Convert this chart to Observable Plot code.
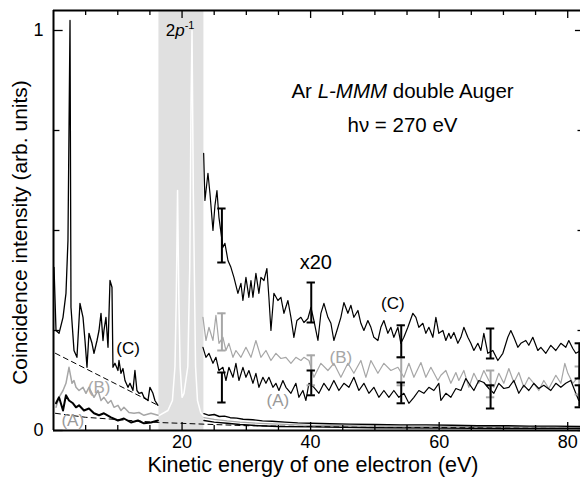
<!DOCTYPE html>
<html><head><meta charset="utf-8">
<script src="https://cdn.jsdelivr.net/npm/d3@7"></script>
<script src="https://cdn.jsdelivr.net/npm/@observablehq/plot@0.6"></script>
<style>body{margin:0;background:#fff}svg{display:block}</style>
</head><body><div id="chart"></div>
<script>
// ---- data (kinetic energy eV, intensity arb. units) ----
const cLeft = [[0.08,0.408],[0.39,0.25],[0.86,0.243],[1.48,0.283],[1.94,0.343],[2.25,0.475],[2.57,1.025],[2.72,0.308],[3.19,0.2],[3.65,0.183],[4.12,0.318],[4.59,0.283],[4.9,0.225],[5.21,0.158],[5.52,0.243],[5.99,0.218],[6.3,0.193],[6.77,0.225],[7.08,0.25],[7.39,0.293],[7.7,0.225],[7.85,0.25],[8.16,0.283],[8.48,0.208],[8.79,0.375],[9.1,0.358],[9.25,0.158],[9.56,0.168],[10.03,0.15],[10.19,0.175],[10.5,0.143],[10.81,0.155],[11.12,0.125],[11.59,0.108],[11.9,0.118],[12.36,0.1],[12.67,0.15],[12.98,0.1],[13.3,0.093],[13.76,0.095],[14.07,0.083],[14.7,0.075],[15.0,0.108],[15.47,0.093],[15.78,0.075],[16.25,0.063]];
const bLeft = [[0.39,0.058],[0.86,0.083],[1.48,0.1],[1.94,0.118],[2.41,0.158],[2.88,0.118],[3.19,0.125],[3.5,0.108],[3.97,0.1],[4.59,0.108],[5.05,0.093],[5.52,0.108],[6.3,0.083],[6.92,0.1],[7.39,0.075],[7.85,0.083],[8.48,0.068],[8.94,0.075],[9.41,0.058],[10.03,0.063],[10.5,0.05],[10.96,0.058],[11.74,0.045],[12.52,0.043],[13.3,0.045],[14.07,0.038],[15.16,0.043],[16.25,0.038]];
const aLeft = [[0.39,0.068],[0.86,0.083],[1.48,0.05],[1.94,0.088],[2.41,0.075],[3.03,0.068],[3.5,0.058],[3.97,0.063],[4.74,0.05],[5.52,0.055],[6.3,0.043],[7.08,0.038],[7.85,0.043],[8.94,0.033],[10.03,0.025],[10.96,0.03],[12.05,0.02],[13.14,0.025],[14.07,0.018],[15.16,0.02],[16.25,0.025]];
const cX20 = [[23.36,0.693],[23.56,0.575],[24.03,0.643],[24.34,0.593],[24.81,0.5],[25.12,0.563],[25.43,0.6],[25.74,0.533],[26.36,0.458],[26.67,0.468],[27.14,0.425],[27.6,0.408],[28.07,0.383],[28.69,0.343],[29.16,0.368],[29.47,0.325],[29.94,0.383],[30.4,0.333],[30.72,0.375],[31.03,0.333],[31.49,0.393],[31.96,0.343],[32.27,0.383],[32.74,0.375],[33.2,0.405],[33.51,0.333],[33.83,0.25],[34.29,0.343],[34.91,0.325],[35.38,0.333],[35.85,0.293],[36.47,0.325],[36.94,0.283],[37.4,0.233],[37.87,0.275],[38.49,0.283],[38.96,0.27],[39.58,0.28],[40.05,0.308],[40.51,0.275],[41.14,0.225],[41.6,0.293],[42.07,0.318],[42.69,0.283],[43.16,0.268],[43.62,0.225],[44.25,0.258],[44.71,0.283],[45.18,0.32],[45.8,0.293],[46.27,0.313],[46.73,0.283],[47.36,0.3],[47.82,0.268],[48.29,0.25],[48.91,0.275],[49.38,0.258],[49.84,0.233],[50.47,0.225],[50.93,0.258],[51.4,0.275],[52.02,0.243],[52.49,0.258],[52.95,0.233],[53.58,0.258],[54.04,0.218],[54.51,0.233],[55.13,0.258],[55.91,0.293],[56.38,0.283],[56.84,0.258],[57.47,0.268],[57.93,0.243],[58.4,0.258],[59.02,0.233],[59.49,0.283],[59.95,0.243],[60.58,0.25],[61.04,0.225],[61.51,0.243],[61.82,0.23],[62.29,0.245],[62.91,0.218],[63.38,0.233],[63.84,0.258],[64.46,0.233],[64.93,0.218],[65.4,0.2],[66.02,0.218],[66.49,0.2],[66.95,0.243],[67.57,0.193],[68.35,0.2],[69.13,0.175],[69.91,0.193],[70.68,0.233],[71.15,0.25],[71.62,0.233],[72.24,0.208],[72.71,0.218],[73.48,0.225],[73.95,0.213],[74.57,0.233],[75.35,0.2],[75.82,0.208],[76.6,0.193],[77.37,0.213],[78.15,0.2],[78.93,0.218],[79.7,0.208],[80.17,0.225],[80.79,0.205],[81.26,0.193],[82.04,0.2]];
const bX20 = [[23.25,0.283],[23.72,0.225],[24.18,0.258],[24.81,0.225],[25.27,0.288],[25.74,0.218],[26.36,0.233],[26.83,0.2],[27.29,0.218],[27.92,0.183],[28.38,0.2],[29.16,0.183],[29.94,0.208],[30.72,0.183],[31.49,0.225],[32.27,0.183],[33.05,0.2],[33.83,0.175],[34.6,0.193],[35.38,0.18],[36.16,0.183],[36.94,0.168],[37.71,0.183],[38.49,0.175],[38.96,0.183],[39.74,0.175],[40.51,0.133],[41.6,0.168],[42.69,0.15],[43.62,0.168],[44.71,0.133],[45.8,0.168],[46.73,0.143],[47.82,0.175],[48.6,0.133],[49.38,0.175],[50.47,0.143],[51.4,0.168],[52.49,0.15],[53.58,0.158],[54.51,0.133],[55.29,0.168],[56.07,0.133],[57.16,0.17],[57.93,0.133],[58.71,0.158],[59.8,0.125],[60.27,0.138],[61.04,0.15],[61.82,0.118],[62.6,0.145],[63.06,0.125],[63.84,0.15],[64.62,0.108],[65.4,0.143],[66.17,0.118],[66.95,0.15],[67.73,0.125],[68.51,0.108],[69.28,0.143],[70.06,0.118],[70.84,0.155],[71.62,0.12],[72.39,0.145],[73.17,0.108],[73.95,0.133],[74.73,0.118],[75.5,0.1],[76.28,0.125],[77.06,0.105],[78.15,0.138],[78.93,0.118],[79.55,0.168],[80.02,0.143],[80.79,0.118],[81.57,0.133]];
const aX20 = [[23.25,0.208],[23.72,0.183],[24.18,0.193],[24.81,0.168],[25.27,0.183],[25.74,0.15],[26.36,0.158],[26.83,0.125],[27.29,0.158],[27.92,0.133],[28.38,0.168],[28.85,0.125],[29.47,0.158],[29.94,0.133],[30.4,0.15],[31.03,0.118],[31.49,0.143],[31.96,0.108],[32.58,0.133],[33.05,0.118],[33.51,0.133],[34.14,0.108],[34.6,0.118],[35.07,0.1],[35.69,0.125],[36.16,0.108],[36.94,0.093],[37.71,0.118],[38.18,0.083],[38.8,0.1],[39.27,0.075],[39.74,0.118],[40.51,0.108],[41.29,0.093],[42.07,0.118],[42.85,0.1],[43.62,0.125],[44.4,0.1],[45.18,0.118],[45.96,0.108],[46.73,0.133],[47.51,0.1],[48.29,0.118],[49.07,0.093],[49.84,0.108],[50.62,0.083],[51.4,0.1],[52.18,0.083],[52.95,0.1],[53.73,0.083],[54.51,0.093],[55.29,0.068],[56.07,0.083],[56.84,0.1],[57.62,0.093],[58.4,0.108],[59.18,0.1],[59.95,0.118],[60.27,0.075],[61.04,0.093],[61.82,0.083],[62.6,0.105],[63.38,0.1],[64.15,0.13],[64.62,0.118],[65.4,0.1],[66.17,0.125],[66.95,0.12],[67.73,0.105],[68.51,0.093],[69.28,0.118],[70.06,0.105],[70.84,0.108],[71.62,0.125],[72.39,0.093],[73.17,0.113],[73.95,0.1],[74.73,0.118],[75.5,0.105],[76.28,0.113],[77.37,0.1],[78.15,0.118],[78.93,0.108],[79.7,0.118],[80.48,0.125],[81.26,0.093],[81.72,0.075]];
const cRight = [[23.4,0.042],[24.2,0.038],[25,0.04],[25.8,0.035],[26.6,0.036],[27.5,0.032],[28.5,0.031],[29.5,0.028],[31,0.027],[32.5,0.024],[34,0.023],[36,0.021],[38,0.019],[40,0.018],[43,0.017],[46,0.016],[50,0.015],[54,0.014],[58,0.014],[62,0.013],[66,0.012],[70,0.012],[74,0.011],[78,0.011],[82.3,0.01]];
const bRight = [[23.4,0.032],[25,0.028],[27,0.024],[29,0.021],[32,0.018],[35,0.016],[40,0.013],[45,0.012],[50,0.011],[60,0.01],[70,0.009],[82.3,0.008]];
const aRight = [[23.4,0.025],[25,0.021],[27,0.018],[29,0.015],[32,0.012],[35,0.01],[40,0.009],[50,0.007],[60,0.006],[70,0.005],[82.3,0.005]];
const photoLine = [[16.4,0.037],[17.8,0.05],[18.5,0.075],[18.9,0.16],[19.1,0.33],[19.3,0.6],[19.5,0.33],[19.7,0.16],[20.0,0.083],[20.3,0.093],[20.9,0.16],[21.2,0.41],[21.4,0.82],[21.55,1.0],[21.75,0.6],[21.9,0.41],[22.1,0.16],[22.4,0.075],[22.9,0.045],[23.3,0.037]];
const bgUpper = [[0.3,0.193],[16.25,0.063]];
const bgLower = [[0.3,0.043],[5,0.033],[16.3,0.02],[30,0.012],[50,0.008],[82.3,0.006]];
const band2p = [16.4, 23.4];
const errX = [26.2, 40.1, 54.1, 68.0, 81.8];
const errC = [[0.42,0.555],[0.27,0.37],[0.183,0.263],[0.18,0.255],[0.13,0.218]];
const errB = [[0.2,0.293],[0.113,0.188],[0.113,0.183],[0.083,0.15],[0.09,0.16]];
const errA = [[0.07,0.145],[0.088,0.15],[0.068,0.12],[0.055,0.113],[0.058,0.113]];
const xTickLabels = [20, 40, 60, 80];
const yTickLabels = [0, 1];
const xMinor = d3.range(5, 85, 5);
const yMinor = [0.25, 0.5, 0.75];

const pts = a => a.map(([x, y]) => ({x, y}));
const bars = (e) => errX.map((x, i) => ({x, lo: e[i][0], hi: e[i][1]}));
const GRAY = "#a6a6a6";
const font = "'Liberation Sans', Arial, Helvetica, sans-serif";

function errMarks(data, color) {
  return [
    Plot.ruleX(data, {x: "x", y1: "lo", y2: "hi", stroke: color, strokeWidth: 2}),
    Plot.ruleY(data, {x1: d => d.x - 0.65, x2: d => d.x + 0.65, y: "lo", stroke: color, strokeWidth: 2}),
    Plot.ruleY(data, {x1: d => d.x - 0.65, x2: d => d.x + 0.65, y: "hi", stroke: color, strokeWidth: 2})
  ];
}

const labels = [
  {x: 11.6, y: 0.205, t: "(C)", c: "#000"},
  {x: 7.1, y: 0.108, t: "(B)", c: GRAY},
  {x: 3.0, y: 0.025, t: "(A)", c: "#999"},
  {x: 52.8, y: 0.318, t: "(C)", c: "#000"},
  {x: 44.7, y: 0.183, t: "(B)", c: GRAY},
  {x: 34.9, y: 0.075, t: "(A)", c: "#999"}
];

const plot = Plot.plot({
  width: 580, height: 483,
  marginLeft: 53, marginTop: 10, marginBottom: 53, marginRight: 0,
  style: {fontFamily: font, fontSize: "18px", color: "#000", background: "#fff"},
  x: {domain: [0, 82.3], range: [53, 582]},
  y: {domain: [0, 1.05], range: [430, 10]},
  marks: [
    Plot.rect([band2p], {x1: d => d[0], x2: d => d[1], fill: "#e0e0e0"}),
    Plot.line(pts(photoLine), {x: "x", y: "y", stroke: "#fff", strokeWidth: 1.5}),
    Plot.line(pts(bgUpper), {x: "x", y: "y", stroke: "#000", strokeWidth: 1, strokeDasharray: "5,4"}),
    Plot.line(pts(bgLower), {x: "x", y: "y", stroke: "#000", strokeWidth: 1, strokeDasharray: "5,4"}),
    Plot.line(pts(bRight), {x: "x", y: "y", stroke: GRAY, strokeWidth: 1.2}),
    Plot.line(pts(aRight), {x: "x", y: "y", stroke: "#000", strokeWidth: 1.4}),
    Plot.line(pts(cRight), {x: "x", y: "y", stroke: "#000", strokeWidth: 1.4}),
    Plot.line(pts(bLeft), {x: "x", y: "y", stroke: GRAY, strokeWidth: 1.5}),
    Plot.line(pts(aLeft), {x: "x", y: "y", stroke: "#000", strokeWidth: 2}),
    Plot.line(pts(cLeft), {x: "x", y: "y", stroke: "#000", strokeWidth: 1.3}),
    Plot.line(pts(bX20), {x: "x", y: "y", stroke: GRAY, strokeWidth: 1.2}),
    Plot.line(pts(aX20), {x: "x", y: "y", stroke: "#000", strokeWidth: 1.2}),
    Plot.line(pts(cX20), {x: "x", y: "y", stroke: "#000", strokeWidth: 1.2}),
    ...errMarks(bars(errB), GRAY),
    ...errMarks(bars(errA), "#000"),
    ...errMarks(bars(errC), "#000"),
    // frame
    Plot.ruleX([0], {stroke: "#000", strokeWidth: 2}),
    Plot.ruleY([0], {stroke: "#000", strokeWidth: 2}),
    Plot.ruleY([1.05], {stroke: "#000", strokeWidth: 2}),
    // inward ticks
    Plot.ruleX(xMinor, {x: d => d, y1: 0, y2: d => d % 20 === 0 ? 0.02 : 0.0125, stroke: "#000", strokeWidth: 1.3}),
    Plot.ruleX(xMinor, {x: d => d, y1: 1.05, y2: d => d % 20 === 0 ? 1.03 : 1.0375, stroke: "#000", strokeWidth: 1.3}),
    Plot.ruleY([...yTickLabels, ...yMinor], {y: d => d, x1: 0, x2: d => d === 0 || d === 1 ? 1.5 : 1.0, stroke: "#000", strokeWidth: 1.3}),
    Plot.ruleY([...yTickLabels, ...yMinor], {y: d => d, x1: d => d === 1 ? 81.2 : 81.6, x2: 82.3, stroke: "#000", strokeWidth: 1.3}),
    Plot.axisX({ticks: xTickLabels, tickSize: 0, tickPadding: 5, fontSize: 18, label: null}),
    Plot.axisY({ticks: yTickLabels, tickSize: 0, tickPadding: 10, fontSize: 18, label: null, tickFormat: d => String(d)}),
    // annotations
    Plot.text(labels, {x: "x", y: "y", text: "t", fill: "c", fontSize: 17}),
    Plot.text(["x20"], {x: 40.8, y: 0.42, text: d => d, fontSize: 20}),
    Plot.text(["2p-1"], {x: 20.0, y: 1.0, text: d => d, fontSize: 17, dx: -2}),
    Plot.text(["Ar L-MMM double Auger"], {x: 54.3, y: 0.848, text: d => d, fontSize: 20.5}),
    Plot.text(["hν = 270 eV"], {x: 54.3, y: 0.763, text: d => d, fontSize: 20.5}),
    Plot.text(["Kinetic energy of one electron (eV)"], {frameAnchor: "bottom", textAnchor: "middle", dy: 41, dx: -4, text: d => d, fontSize: 21.5}),
    Plot.text(["Coincidence intensity (arb. units)"], {frameAnchor: "left", textAnchor: "middle", rotate: -90, dx: -33, dy: 12, text: d => d, fontSize: 21})
  ]
});

plot.querySelectorAll("text").forEach(t => {
  if (t.textContent === "Ar L-MMM double Auger") {
    t.innerHTML = 'Ar <tspan font-style="italic">L-MMM</tspan> double Auger';
  } else if (t.textContent === "2p-1") {
    t.innerHTML = '2<tspan font-style="italic">p</tspan><tspan dy="-7" font-size="11">-1</tspan>';
  }
});
document.getElementById("chart").appendChild(plot);
</script>
</body></html>
